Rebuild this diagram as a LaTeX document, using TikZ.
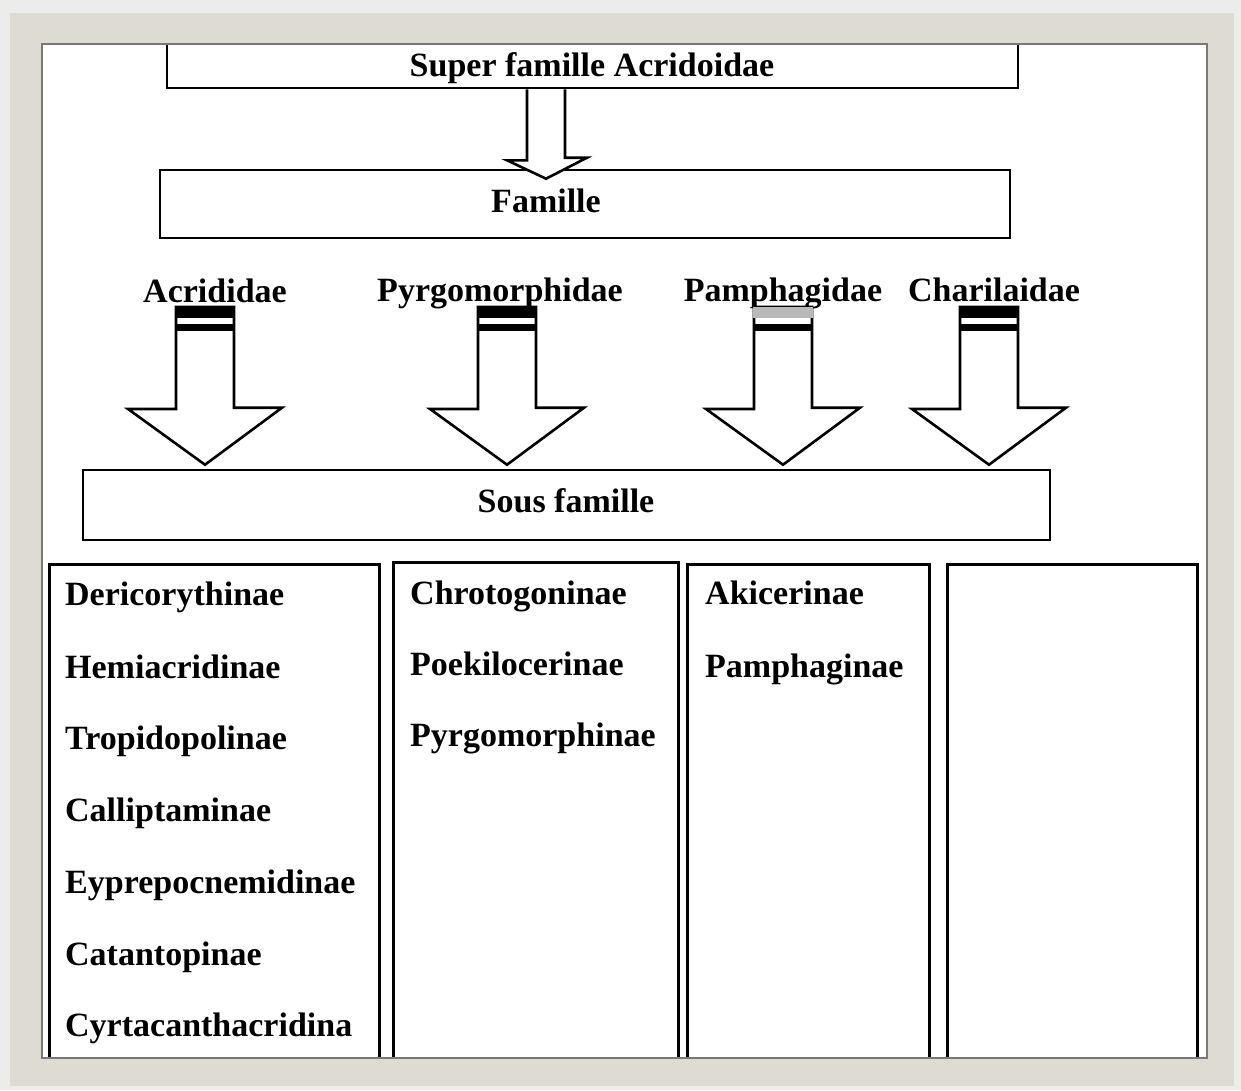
\documentclass[tikz,border=0pt]{standalone}
\usepackage{fontspec}
\setmainfont{Liberation Serif}
\definecolor{outerbg}{RGB}{236,236,234}
\definecolor{framebg}{RGB}{222,220,210}
\definecolor{innerline}{RGB}{120,120,120}
\begin{document}
\begin{tikzpicture}[x=1pt,y=-1pt,
  txt/.style={font=\fontsize{34}{40}\selectfont\bfseries, inner sep=0pt},
  lbl/.style={txt, anchor=base},
  box/.style={draw=black, line width=2.6pt, fill=white, inner sep=0pt},
  colbox/.style={draw=black, line width=2.6pt, fill=white, inner sep=0pt, anchor=north west},
  item/.style={txt, anchor=base west},
  barrow/.style={draw=black, line width=2.6pt, fill=white, line join=miter}
]
\useasboundingbox (0,0) rectangle (1241,1090);
\fill[outerbg] (0,0) rectangle (1241,1090);
\fill[framebg] (10,13) rectangle (1234,1086);
\fill[white] (42,44) rectangle (1207,1058);

\begin{scope}
\clip (42,44) rectangle (1207,1058);

% boxes
\node[box, minimum width=851, minimum height=46] (super) at (592.5,65) {};
\node[lbl] (supertxt) at (592,76) {Super famille Acridoidae};
\node[box, minimum width=850, minimum height=68] (famille) at (585,204) {};
\node[lbl] (famtxt) at (546,212.5) {Famille};
\node[box, minimum width=967, minimum height=70] (sous) at (566.5,505) {};
\node[lbl] (soustxt) at (566,512.5) {Sous famille};

% small arrow from super to famille
\coordinate (sa) at (famtxt.base |- super.south);
\draw[barrow] ([xshift=-19pt]sa) -- ++(0,71) -- ++(-20,0) -- ([yshift=-10pt]famtxt.base |- famille.north) -- ++(41,-21) -- ++(-22,0) -- ([xshift=19pt]sa);

% family labels
\node[lbl] (acr) at (215,302.5) {Acrididae};
\node[lbl] (pyr) at (500,301.5) {Pyrgomorphidae};
\node[lbl] (pam) at (783,301.5) {Pamphagidae};
\node[lbl] (cha) at (994,301.5) {Charilaidae};

% block arrows
\foreach \c/\n/\bandcol in {205/a1/black, 507/a2/black, 783/a3/gray!55, 989/a4/black}{
  \coordinate (\n top) at (\c,307);
  \coordinate (\n tip) at (\n top |- sous.north);
  \draw[barrow] ([xshift=-29pt]\n top) -- ++(0,102) -- ++(-48,0) -- ([yshift=4pt]\n tip) -- ++(77,-57) -- ++(-48,0) -- ([xshift=29pt]\n top) -- cycle;
  \fill[\bandcol] ([xshift=-30pt]\n top) rectangle ++(60,11);
  \fill[black] ([xshift=-30pt,yshift=-17pt]\n top) rectangle ++(60,7);
}

% column boxes
\node[colbox, minimum width=330, minimum height=520] (col1) at (48,563) {};
\node[colbox, minimum width=285, minimum height=520] (col2) at (392,561) {};
\node[colbox, minimum width=242, minimum height=520] (col3) at (686,563) {};
\node[colbox, minimum width=250, minimum height=520] (col4) at (946,563) {};

% items
\node[item] (i11) at (65,605.5) {Dericorythinae};
\node[item] (i12) at (65,678.5) {Hemiacridinae};
\node[item] (i13) at (65,749.5) {Tropidopolinae};
\node[item] (i14) at (65,821.5) {Calliptaminae};
\node[item] (i15) at (65,893.5) {Eyprepocnemidinae};
\node[item] (i16) at (65,965.5) {Catantopinae};
\node[item] (i17) at (65,1036.5) {Cyrtacanthacridina};

\node[item] (i21) at (410,604.5) {Chrotogoninae};
\node[item] (i22) at (410,675.5) {Poekilocerinae};
\node[item] (i23) at (410,746.5) {Pyrgomorphinae};

\node[item] (i31) at (705,604.5) {Akicerinae};
\node[item] (i32) at (705,677.5) {Pamphaginae};
\end{scope}

\draw[innerline, line width=1.5pt] (42,44) rectangle (1207,1058);
\end{tikzpicture}
\end{document}
